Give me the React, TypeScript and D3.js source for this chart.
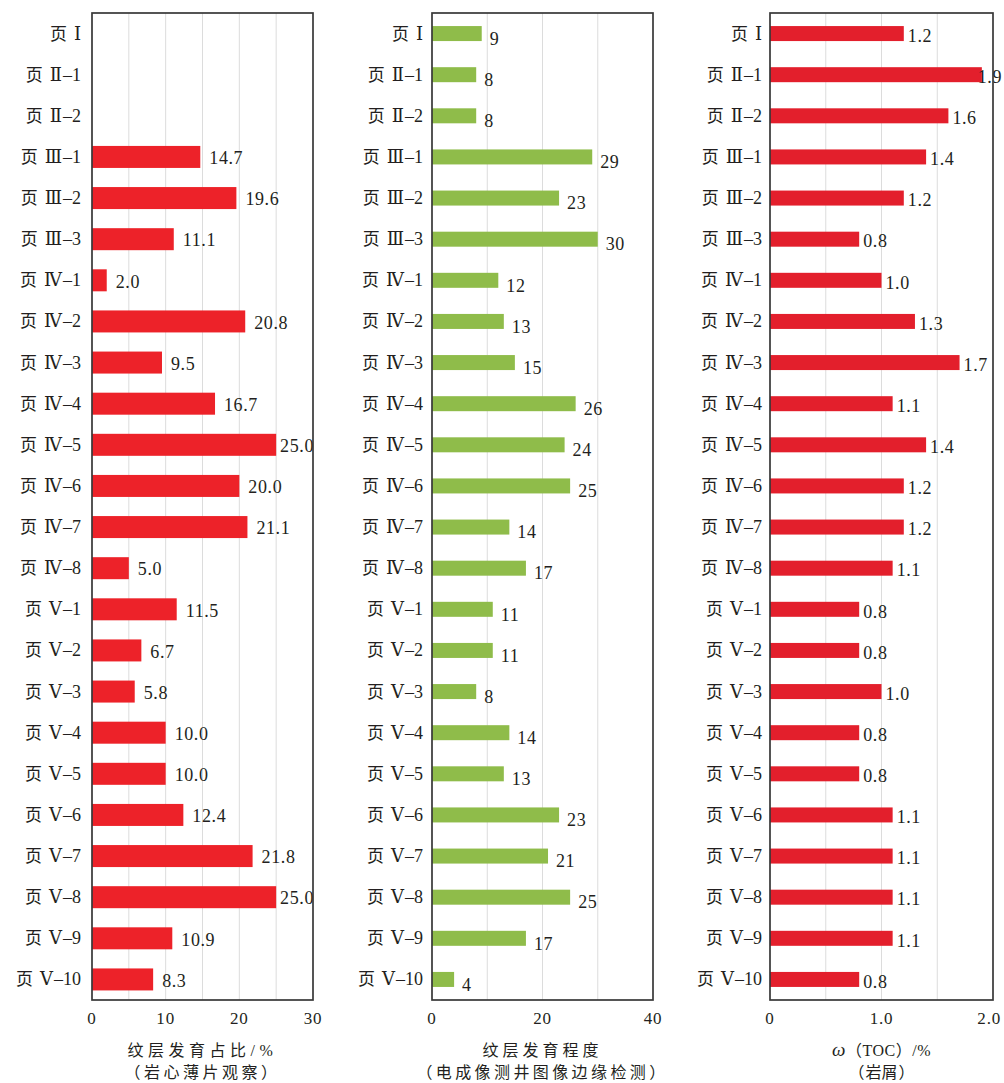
import React from "react";
import * as d3 from "d3";

// Well-section sample names (top to bottom)
const categories = [
  "页 Ⅰ", "页 Ⅱ–1", "页 Ⅱ–2", "页 Ⅲ–1", "页 Ⅲ–2", "页 Ⅲ–3",
  "页 Ⅳ–1", "页 Ⅳ–2", "页 Ⅳ–3", "页 Ⅳ–4", "页 Ⅳ–5", "页 Ⅳ–6", "页 Ⅳ–7", "页 Ⅳ–8",
  "页 Ⅴ–1", "页 Ⅴ–2", "页 Ⅴ–3", "页 Ⅴ–4", "页 Ⅴ–5", "页 Ⅴ–6", "页 Ⅴ–7", "页 Ⅴ–8", "页 Ⅴ–9", "页 Ⅴ–10",
];

// Lamination ratio from thin sections (%), null = no data
const laminaRatio: (number | null)[] = [
  null, null, null, 14.7, 19.6, 11.1, 2.0, 20.8, 9.5, 16.7, 25.0, 20.0, 21.1, 5.0,
  11.5, 6.7, 5.8, 10.0, 10.0, 12.4, 21.8, 25.0, 10.9, 8.3,
];

// Lamination degree from image-log edge detection
const laminaDegree: (number | null)[] = [
  9, 8, 8, 29, 23, 30, 12, 13, 15, 26, 24, 25, 14, 17,
  11, 11, 8, 14, 13, 23, 21, 25, 17, 4,
];

// TOC of cuttings (%)
const tocValues: (number | null)[] = [
  1.2, 1.9, 1.6, 1.4, 1.2, 0.8, 1.0, 1.3, 1.7, 1.1, 1.4, 1.2, 1.2, 1.1,
  0.8, 0.8, 1.0, 0.8, 0.8, 1.1, 1.1, 1.1, 1.1, 0.8,
];

const ticks1 = [0, 10, 20, 30];
const ticks2 = [0, 20, 40];
const ticks3 = [0, 1.0, 2.0];

const TEXT = "#231f20";
const LATIN = "'Liberation Serif', 'DejaVu Serif', 'Noto Sans CJK SC', serif";
const CJK = "'Liberation Serif', 'Noto Sans CJK SC', serif";
const NUMERAL = "'DejaVu Serif', 'Noto Sans CJK SC', serif";

const W = 1004;
const VAL_FS = 18;
const VAL_LS = 0.6;

// approximate advance of a serif numeric string
function textWidth(s: string, fs: number, ls: number) {
  let w = 0;
  for (const ch of s) w += ch === "." ? fs * 0.25 : fs * 0.5;
  return w + ls * s.length;
}

type Panel = {
  values: (number | null)[];
  max: number;
  grid: number;
  ticks: number[];
  tickFmt: (v: number) => string;
  valFmt: (v: number) => string;
  color: string;
  x0: number;
  x1: number;
  barH: number;
  labelGap: number;
  labelDy: number;
  catGap: number;
  title: React.ReactNode;
  sub: string;
  titleSpacing: number;
  subSpacing: number;
  parenPad: number;
};

const top = 13;
const bottom = 1000;

const panels: Panel[] = [
  {
    values: laminaRatio, max: 30, grid: 5, ticks: ticks1,
    tickFmt: (v) => String(v), valFmt: (v) => v.toFixed(1),
    color: "#ed2229", x0: 92, x1: 313, barH: 22, labelGap: 9, labelDy: 1, catGap: 11,
    title: "纹层发育占比/%", sub: "（岩心薄片观察）", titleSpacing: 4.5, subSpacing: 3.5, parenPad: 0,
  },
  {
    values: laminaDegree, max: 40, grid: 10, ticks: ticks2,
    tickFmt: (v) => String(v), valFmt: (v) => String(v),
    color: "#8fbc4a", x0: 432, x1: 653, barH: 15, labelGap: 8, labelDy: 5, catGap: 9,
    title: "纹层发育程度", sub: "（电成像测井图像边缘检测）", titleSpacing: 4, subSpacing: 3.4, parenPad: 0,
  },
  {
    values: tocValues, max: 2.0, grid: 0.5, ticks: ticks3,
    tickFmt: (v) => (v === 0 ? "0" : v.toFixed(1)), valFmt: (v) => v.toFixed(1),
    color: "#e31f2c", x0: 770, x1: 993, barH: 15, labelGap: 4, labelDy: 2, catGap: 8,
    title: (
      <>
        <tspan fontStyle="italic" fontFamily={LATIN} fontSize={19}>ω</tspan>
        <tspan>（</tspan>
        <tspan>TOC</tspan>
        <tspan>）</tspan>
        <tspan>/%</tspan>
      </>
    ),
    sub: "（岩屑）", titleSpacing: 0.5, subSpacing: 0, parenPad: 1,
  },
];

// split "页 Ⅲ–1" into the Chinese prefix, the roman numeral and the suffix
function CategoryLabel({ text, x, y }: { text: string; x: number; y: number }) {
  const m = text.match(/^(\S+)\s(\S)(.*)$/);
  const head = m ? m[1] : text;
  const num = m ? m[2] : "";
  const tail = m ? m[3] : "";
  return (
    <text x={x} y={y} dy="0.35em" textAnchor="end" fontFamily={CJK} fontSize={17} fill={TEXT}>
      <tspan>{head}</tspan>
      <tspan dx={7} fontFamily={NUMERAL} fontSize={18}>{num}</tspan>
      {tail && <tspan dx={1} fontFamily={LATIN} fontSize={18}>{tail}</tspan>}
    </text>
  );
}

// subtitle wrapped in full-width brackets, with optional padding inside the brackets
function SubTitle({ text, pad }: { text: string; pad: number }) {
  if (!pad) return <>{text}</>;
  const inner = text.slice(1, -1);
  return (
    <>
      <tspan>{text[0]}</tspan>
      <tspan dx={pad}>{inner}</tspan>
      <tspan dx={pad}>{text[text.length - 1]}</tspan>
    </>
  );
}

function PanelView({ p }: { p: Panel }) {
  const x = d3.scaleLinear().domain([0, p.max]).range([p.x0, p.x1]);
  const y = d3.scaleBand<string>().domain(categories).range([top, bottom]).padding(0);
  const gridVals = d3.range(p.grid, p.max, p.grid);
  const cx = (p.x0 + p.x1) / 2;
  return (
    <g>
      {gridVals.map((g) => (
        <line key={g} x1={x(g)} x2={x(g)} y1={top} y2={bottom} stroke="#dcdcdc" strokeWidth={1} />
      ))}
      {categories.map((c, i) => {
        const v = p.values[i];
        const yc = (y(c) as number) + y.bandwidth() / 2;
        const label = <CategoryLabel key={"c" + i} text={c} x={p.x0 - p.catGap} y={yc} />;
        if (v == null) return label;
        const xe = x(v);
        const txt = p.valFmt(v);
        const tw = textWidth(txt, VAL_FS, VAL_LS);
        // keep the value label inside the box where possible, and inside the page
        let lx = xe + p.labelGap;
        if (lx + tw > p.x1 + 1) lx = Math.max(xe + 1, p.x1 + 1 - tw);
        if (lx + tw > W - 2) lx = W - 2 - tw;
        return (
          <g key={"b" + i}>
            {label}
            <rect x={p.x0} y={yc - p.barH / 2} width={xe - p.x0} height={p.barH} fill={p.color} />
            <text
              x={lx}
              y={yc + p.labelDy}
              dy="0.35em"
              fontFamily={LATIN}
              fontSize={VAL_FS}
              letterSpacing={VAL_LS}
              fill={TEXT}
            >
              {txt}
            </text>
          </g>
        );
      })}
      <rect
        x={p.x0}
        y={top}
        width={p.x1 - p.x0}
        height={bottom - top}
        fill="none"
        stroke="#383838"
        strokeWidth={1.7}
      />
      {p.ticks.map((t) => {
        const s = p.tickFmt(t);
        const half = textWidth(s, 17, 0.8) / 2;
        const tx = Math.min(x(t), W - 3 - half);
        return (
          <text
            key={"t" + t}
            x={tx}
            y={1018}
            dy="0.35em"
            textAnchor="middle"
            fontFamily={LATIN}
            fontSize={17}
            letterSpacing={0.8}
            fill={TEXT}
          >
            {s}
          </text>
        );
      })}
      <text
        x={cx}
        y={1050}
        dy="0.35em"
        textAnchor="middle"
        fontFamily={CJK}
        fontSize={16}
        letterSpacing={p.titleSpacing}
        fill={TEXT}
      >
        {p.title}
      </text>
      <text
        x={cx}
        y={1072}
        dy="0.35em"
        textAnchor="middle"
        fontFamily={CJK}
        fontSize={16}
        letterSpacing={p.subSpacing}
        fill={TEXT}
      >
        <SubTitle text={p.sub} pad={p.parenPad} />
      </text>
    </g>
  );
}

export default function App() {
  return (
    <svg
      width={W}
      height={1083}
      viewBox={`0 0 ${W} 1083`}
      style={{ position: "absolute", left: 0, top: 0, background: "#fff" }}
    >
      {panels.map((p, i) => (
        <PanelView key={i} p={p} />
      ))}
    </svg>
  );
}
